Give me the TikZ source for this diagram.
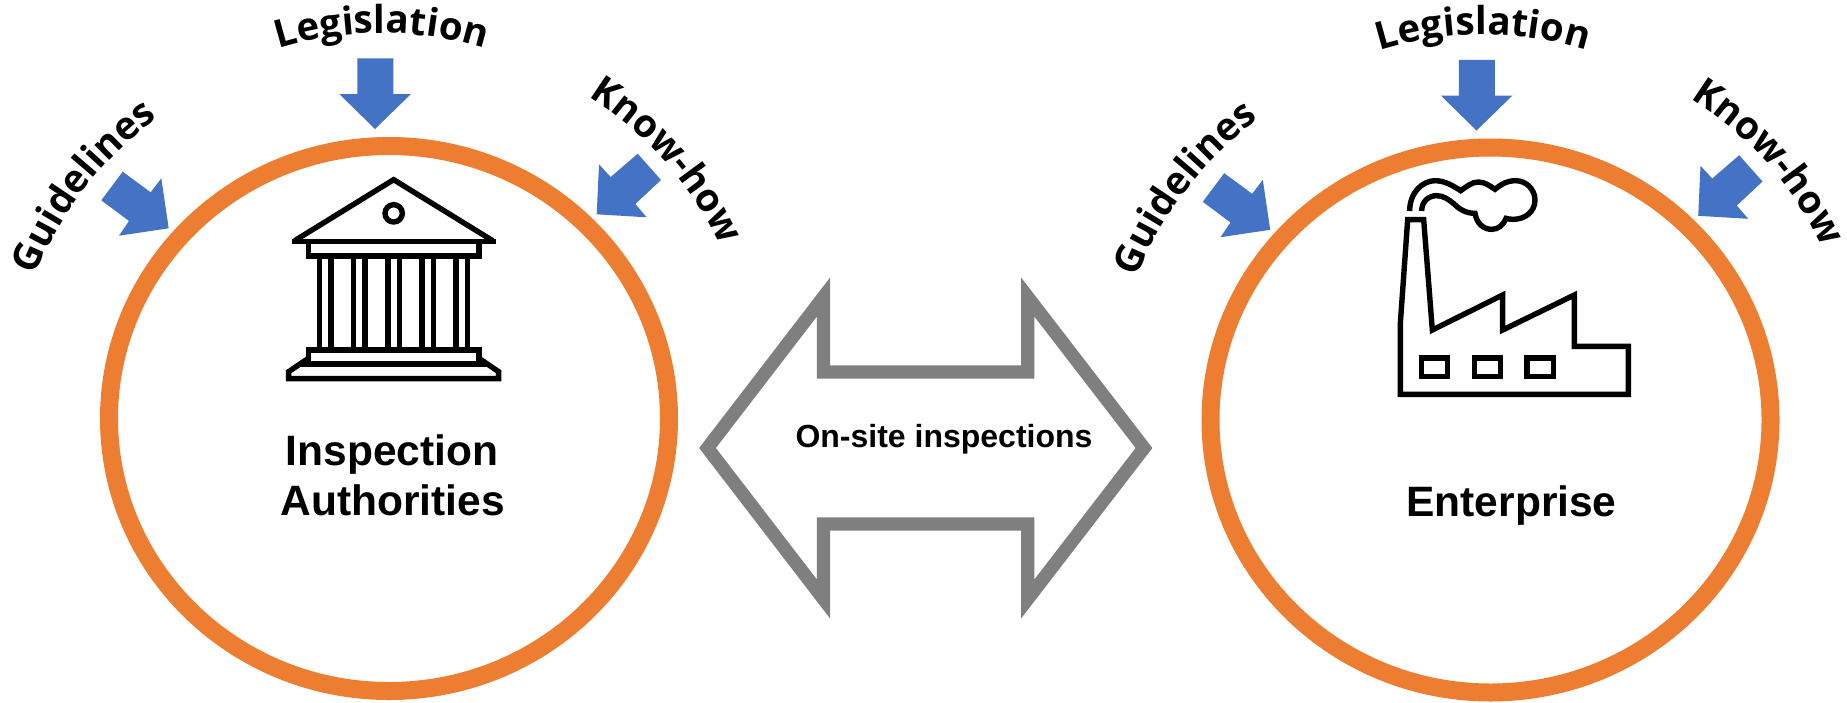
\documentclass[tikz,border=0pt]{standalone}
\usepackage{fontspec}
\setmainfont{Liberation Sans}
\newfontfamily\wordfont{Open Sans}
\usetikzlibrary{decorations.text}
\definecolor{ringorange}{HTML}{ED7D31}
\definecolor{arrowblue}{HTML}{4472C4}
\definecolor{arrowgray}{HTML}{7F7F7F}
\tikzset{
  ring/.style={draw=ringorange,line width=18pt},
  bluearrow/.style={fill=arrowblue,draw=none},
  iconline/.style={draw=black,line width=5.4pt,miter limit=12},
  iconscope/.style={x=0.33333pt,y=-0.33333pt},
  labeltext/.style={font=\bfseries\fontsize{42.5}{50}\selectfont,anchor=base,inner sep=0pt},
  midtext/.style={font=\bfseries\fontsize{32}{38}\selectfont,anchor=base,inner sep=0pt},
  archtext/.style={decorate,decoration={text along path,text align=center,raise=0pt,text={|\wordfont\bfseries\fontsize{38.5}{46}\selectfont|#1}}}
}
\begin{document}
\begin{tikzpicture}[x=1pt,y=1pt]
\useasboundingbox (0,0) rectangle (1847,-702);
% rings
\draw[ring] (389,-418.5) ellipse [x radius=280pt,y radius=272.5pt];
\draw[ring] (1490.5,-420) ellipse [x radius=280pt,y radius=272.5pt];
% inputs, repeated for both rings
\foreach \dx/\dy in {0/0,1101.5/-1.5}{
\begin{scope}[shift={(\dx,\dy)}]
  \fill[bluearrow] (357.3,-58.3)--(393.3,-58.3)--(393.3,-94)--(411,-94)--(375,-129)--(339.3,-94)--(357.3,-94)--cycle;
  \fill[bluearrow] (122.7,-171.7)--(150.7,-192.3)--(161.3,-178.3)--(168.7,-228.3)--(119,-235.7)--(129,-221)--(101.3,-200.3)--cycle;
  \fill[bluearrow] (637.7,-153.7)--(661,-180)--(635.3,-204)--(646.7,-217.3)--(596.7,-214.3)--(599,-164.3)--(610.7,-177)--cycle;
  \path[archtext={Legislation}] (281.7,-47.7) arc[start angle=106.7,end angle=73.3,radius=347.5pt];
  \path[archtext={Guidelines}] (35.5,-274.6) arc[start angle=158.1,end angle=126.3,radius=360pt];
  \path[archtext={Know-how}] (596.3,-101.7) arc[start angle=56.6,end angle=26.5,radius=350pt];
\end{scope}}
% double arrow
\draw[draw=arrowgray,line width=13.3pt,miter limit=12,fill=white]
  (707.5,-448)--(823.5,-297)--(823.5,-372)--(1027.7,-372)--(1027.7,-297)--(1144,-448)--(1027.7,-599)--(1027.7,-524)--(823.5,-524)--(823.5,-599)--cycle;
\node[midtext] (onsite) at (944,-447) {On-site inspections};
% building icon
\begin{scope}[shift={(260,-160)},iconscope]
  \draw[iconline] (104,242)--(401,59)--(698,242);
  \draw[iconline] (95,245)--(707,245);
  \draw[iconline] (145,245)--(145,288)--(657,288)--(657,245);
  \foreach \cx in {179,213,281,315,384,418,486,520,588,622}
    \draw[iconline] (\cx,288)--(\cx,570);
  \draw[iconline] (145,605)--(145,570)--(657,570)--(657,605);
  \draw[iconline] (120,612)--(682,612);
  \draw[iconline] (145,595)--(86,635)--(86,656)--(716,656)--(716,635)--(657,595);
  \draw[iconline] (401,160) circle [radius=8.67pt];
\end{scope}
% factory icon
\begin{scope}[shift={(1370,-160)},iconscope]
  \draw[iconline] (91,703)--(91,490)--(113,179)--(161,179)--(187,510)--(398,405)--(398,510)--(613,405)--(613,559)--(775,559)--(775,703)--cycle;
  \draw[iconline] (154,594) rectangle (233,649);
  \draw[iconline] (313,594) rectangle (392,649);
  \draw[iconline] (471,594) rectangle (550,649);
  \draw[iconline] (119,153) .. controls (119,95) and (160,62) .. (195,62) .. controls (225,62) and (250,78) .. (272,92) .. controls (290,80) and (305,66) .. (325,66) .. controls (345,66) and (360,78) .. (375,88) .. controls (390,75) and (410,62) .. (437,62) .. controls (470,62) and (495,90) .. (495,120) .. controls (495,155) and (465,178) .. (430,178) .. controls (422,178) and (415,177) .. (408,175) .. controls (400,195) and (385,208) .. (365,208) .. controls (340,208) and (320,190) .. (315,160) .. controls (285,160) and (265,145) .. (250,130) .. controls (235,118) and (220,107) .. (200,107) .. controls (175,107) and (155,125) .. (155,153);
\end{scope}
% labels
\node[labeltext] (inspection) at (392,-465) {Inspection};
\node[labeltext] (authorities) at (392.5,-515.7) {Authorities};
\node[labeltext] (enterprise) at (1511.5,-516) {Enterprise};
\end{tikzpicture}
\end{document}
